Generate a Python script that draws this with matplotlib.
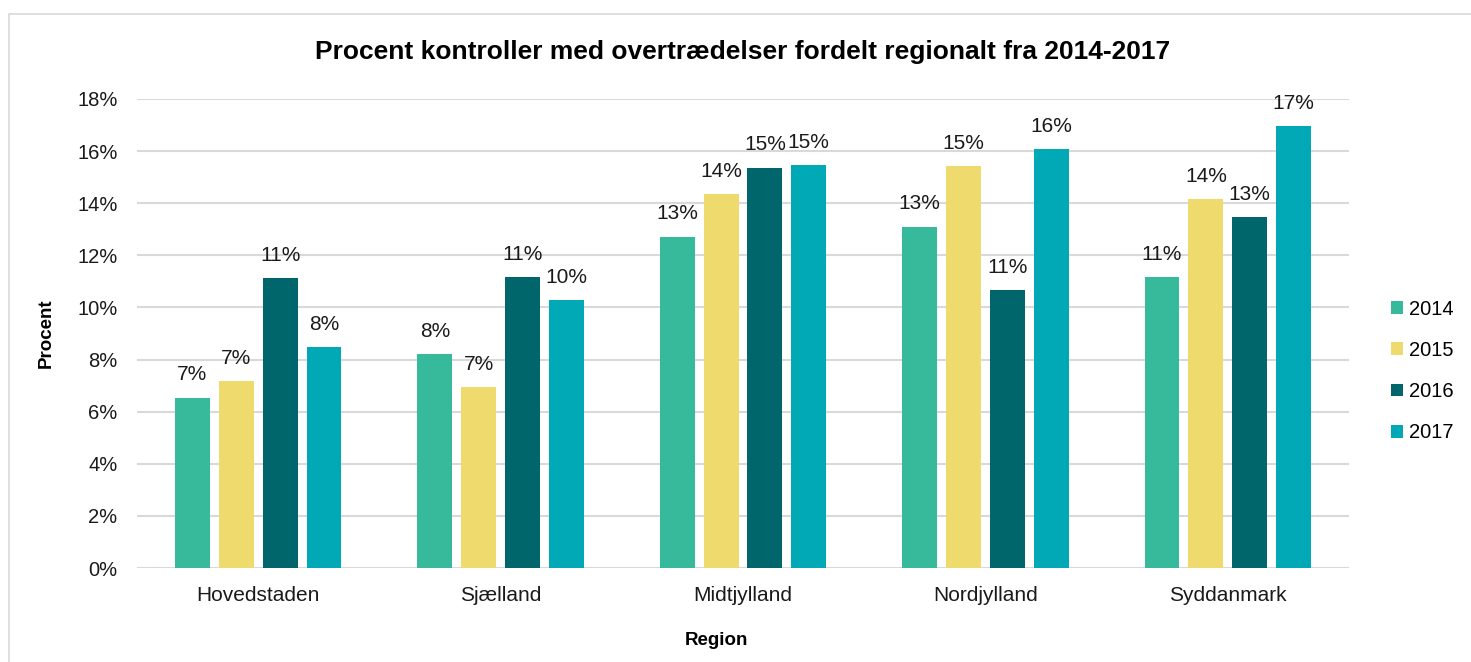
import numpy as np
import matplotlib.pyplot as plt
from matplotlib.patches import Rectangle

plt.rcParams['font.family'] = ['Liberation Sans', 'DejaVu Sans']

regions = ['Hovedstaden', 'Sjælland', 'Midtjylland', 'Nordjylland', 'Syddanmark']
years = ['2014', '2015', '2016', '2017']
pct_2014 = [6.54, 8.20, 12.72, 13.10, 11.17]
pct_2015 = [7.17, 6.95, 14.36, 15.42, 14.17]
pct_2016 = [11.14, 11.17, 15.37, 10.67, 13.46]
pct_2017 = [8.47, 10.28, 15.47, 16.07, 16.97]
colors = ['#36BA9B', '#EFDA6E', '#00666C', '#00A9B5']

series = [pct_2014, pct_2015, pct_2016, pct_2017]

fig = plt.figure(figsize=(14.71, 6.62), dpi=100)
# outer chart border
fig.patches.append(Rectangle((9 / 1471, -0.1), 1.2, 1 - 14 / 662 + 0.1, transform=fig.transFigure,
                             fill=False, edgecolor='#D9D9D9', linewidth=1.2))

ax = fig.add_axes([137 / 1471, 1 - 568 / 662, 1212 / 1471, 469 / 662])

x = np.arange(len(regions))
pitch = 0.181
width = 0.144
for i, (vals, year, col) in enumerate(zip(series, years, colors)):
    pos = x + (i - 1.5) * pitch
    bars = ax.bar(pos, np.array(vals) / 100, width=width, color=col, label=year, zorder=3)
    for b, v in zip(bars, vals):
        ax.annotate(f'{v:.0f}%', (b.get_x() + b.get_width() / 2, b.get_height()),
                    xytext=(0, 9.5), textcoords='offset points', ha='center', va='bottom',
                    fontsize=15, color='#1a1a1a')

ax.set_xlim(-0.5, 4.5)
ax.set_ylim(0, 0.18)
ax.set_yticks(np.arange(0, 0.181, 0.02))
ax.set_yticklabels([f'{int(round(t * 100))}%' for t in np.arange(0, 0.181, 0.02)])
ax.set_xticks(x)
ax.set_xticklabels(regions)
ax.tick_params(axis='both', length=0, colors='#1a1a1a')
ax.tick_params(axis='y', pad=14, labelsize=14.5)
ax.tick_params(axis='x', pad=13, labelsize=15)
ax.grid(axis='y', color='#D9D9D9', linewidth=1.5, zorder=0)
for s in ['top', 'right', 'left', 'bottom']:
    ax.spines[s].set_visible(False)

ax.set_title('Procent kontroller med overtrædelser fordelt regionalt fra 2014-2017',
             fontsize=19, fontweight='bold', pad=28.5)
ax.set_ylabel('Procent', fontsize=13.5, fontweight='bold', labelpad=16)
ax.set_xlabel('Region', fontsize=13.5, fontweight='bold')
ax.xaxis.set_label_coords(0.478, -0.136)

ax.legend(loc='center left', bbox_to_anchor=(1.02, 0.42), frameon=False, fontsize=14.5,
          handlelength=0.6, handleheight=0.6, handletextpad=0.3, labelspacing=1.1)

fig.savefig('out.png', dpi=100)
